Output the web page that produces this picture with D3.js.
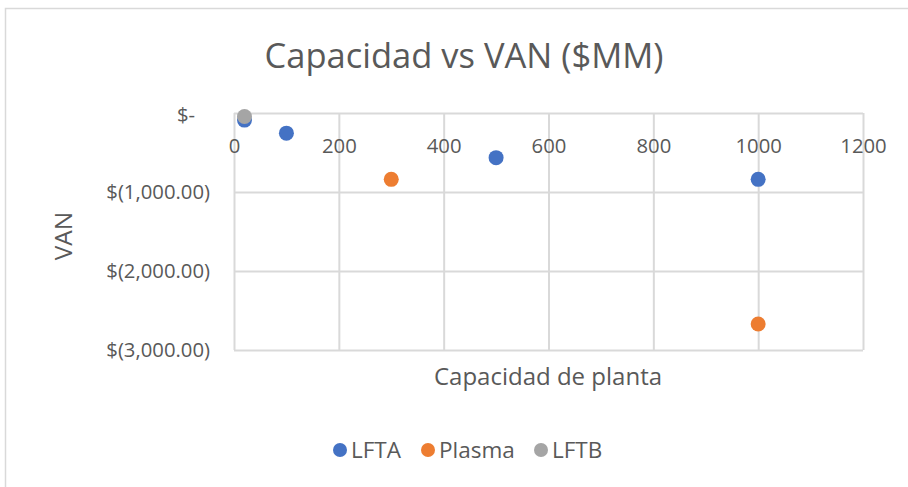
<!DOCTYPE html>
<html>
<head>
<meta charset="utf-8">
<script src="https://cdn.jsdelivr.net/npm/d3@7"></script>
<style>
  html, body { margin: 0; padding: 0; background: #fff; }
  svg { display: block; }
  text { font-family: "Open Sans", Lato, sans-serif; fill: #595959; }
</style>
</head>
<body>
<svg id="chart" width="908" height="487"></svg>
<script>
// Plant capacity (x) and NPV in $MM (y) for each technology
const lftaCapacity = [20, 100, 500, 1000];
const lftaVAN      = [-90, -255, -565, -840];
const plasmaCapacity = [300, 1000];
const plasmaVAN      = [-840, -2670];
const lftbCapacity = [20];
const lftbVAN      = [-45];

const xTicks = [0, 200, 400, 600, 800, 1000, 1200];
const yTicks = [0, -1000, -2000, -3000];

const seriesNames  = ["LFTA", "Plasma", "LFTB"];
const seriesColors = ["#4472C4", "#ED7D31", "#A5A5A5"];

const series = [
  { name: seriesNames[0], color: seriesColors[0], xs: lftaCapacity, ys: lftaVAN },
  { name: seriesNames[1], color: seriesColors[1], xs: plasmaCapacity, ys: plasmaVAN },
  { name: seriesNames[2], color: seriesColors[2], xs: lftbCapacity, ys: lftbVAN }
];

const svg = d3.select("#chart");

// chart frame
svg.append("rect")
  .attr("x", 5.5).attr("y", 8.5)
  .attr("width", 920).attr("height", 500)
  .attr("fill", "none").attr("stroke", "#d9d9d9").attr("stroke-width", 1.5);

const plot = { left: 234, right: 863, top: 113, bottom: 350 };

const x = d3.scaleLinear().domain([0, 1200]).range([plot.left, plot.right]);
const y = d3.scaleLinear().domain([-3000, 0]).range([plot.bottom, plot.top]);

const gridColor = "#d9d9d9";

// vertical gridlines
const xGrid = svg.append("g")
  .attr("transform", `translate(0,${plot.bottom})`)
  .call(d3.axisBottom(x).tickValues(xTicks).tickSize(-(plot.bottom - plot.top)).tickFormat(""));
xGrid.select(".domain").remove();
xGrid.selectAll("line").attr("stroke", gridColor).attr("stroke-width", 2);

// horizontal gridlines
const yGrid = svg.append("g")
  .attr("transform", `translate(${plot.left},0)`)
  .call(d3.axisLeft(y).tickValues(yTicks).tickSize(-(plot.right - plot.left)).tickFormat(""));
yGrid.select(".domain").remove();
yGrid.selectAll("line").attr("stroke", gridColor).attr("stroke-width", 2);

// y-axis labels in accounting format
const money = d3.format(",.2f");
const yAxis = svg.append("g")
  .attr("transform", `translate(${plot.left},0)`)
  .call(d3.axisLeft(y).tickValues(yTicks).tickSize(0).tickPadding(24)
    .tickFormat(v => v === 0 ? "$-" : "$(" + money(-v) + ")"));
yAxis.select(".domain").remove();
yAxis.selectAll("text")
  .style("font-size", "20.3px")
  .attr("dx", d => d === 0 ? -15 : 0)
  .attr("dy", d => d === 0 ? "0.42em" : "0.34em");

// x-axis labels sit along the zero line
const xAxis = svg.append("g")
  .attr("transform", `translate(0,${y(0)})`)
  .call(d3.axisBottom(x).tickValues(xTicks).tickSize(0).tickPadding(26).tickFormat(d3.format("d")));
xAxis.select(".domain").remove();
xAxis.selectAll("text").style("font-size", "20.3px");

// points
series.forEach(s => {
  svg.append("g").selectAll("circle")
    .data(s.xs.map((v, i) => [v, s.ys[i]]))
    .join("circle")
    .attr("cx", d => x(d[0]))
    .attr("cy", d => y(d[1]))
    .attr("r", 7.5)
    .attr("fill", s.color);
});

// title
svg.append("text")
  .attr("x", 464).attr("y", 68)
  .attr("text-anchor", "middle")
  .style("font-size", "34.5px")
  .text("Capacidad vs VAN ($MM)");

// axis titles
svg.append("text")
  .attr("x", 548).attr("y", 385)
  .attr("text-anchor", "middle")
  .style("font-size", "24px")
  .text("Capacidad de planta");

svg.append("text")
  .attr("transform", "translate(72,236) rotate(-90)")
  .attr("text-anchor", "middle")
  .style("font-size", "24.5px")
  .text("VAN");

// legend
const legendX = [340, 428, 541];
const legend = svg.append("g");
series.forEach((s, i) => {
  legend.append("circle")
    .attr("cx", legendX[i]).attr("cy", 450).attr("r", 7)
    .attr("fill", s.color);
  legend.append("text")
    .attr("x", legendX[i] + 11).attr("y", 450).attr("dy", "0.36em")
    .style("font-size", "22.5px")
    .text(s.name);
});
</script>
</body>
</html>
